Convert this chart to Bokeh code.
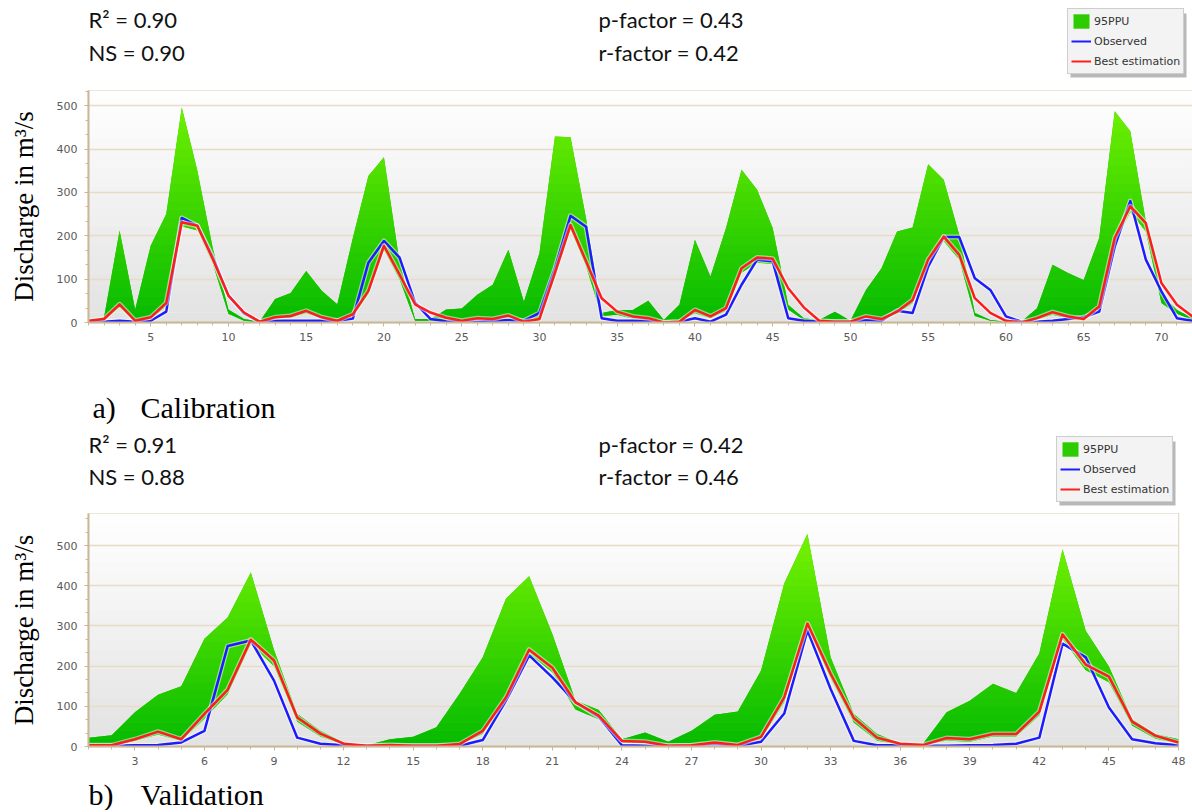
from bokeh.plotting import figure
from bokeh.layouts import column, row
from bokeh.models import Label, Legend, LegendItem, SingleIntervalTicker, BoxAnnotation, Range1d
from bokeh.embed import file_html
from bokeh.resources import INLINE

# ---------------- data: calibration ----------------
cal_step = list(range(1, 73))
cal_upper = [4, 12, 212, 30, 177, 250, 496, 350, 170, 30,
             8, 2, 54, 68, 119, 73, 42, 195, 338, 381,
             140, 8, 8, 30, 32, 64, 87, 168, 48, 160,
             429, 427, 240, 22, 29, 29, 50, 6, 41, 191,
             106, 218, 352, 306, 218, 41, 10, 6, 25, 4,
             75, 125, 210, 219, 365, 329, 202, 22, 6, 2,
             2, 33, 133, 114, 98, 195, 487, 441, 233, 64,
             29, 10]
cal_lower = [2, 5, 36, 2, 8, 38, 222, 212, 135, 20,
             4, 0, 9, 11, 22, 9, 2, 14, 66, 168,
             100, 4, 4, 7, 2, 6, 5, 11, 1, 5,
             105, 215, 130, 15, 18, 9, 7, 0, 1, 22,
             10, 27, 115, 138, 135, 30, 6, 2, 1, 1,
             10, 5, 20, 45, 135, 188, 145, 15, 4, 1,
             0, 7, 18, 10, 5, 30, 182, 255, 210, 45,
             20, 6]
cal_observed = [2, 2, 4, 2, 4, 25, 241, 223, 150, 62,
                21, 2, 4, 4, 4, 4, 4, 9, 138, 188,
                150, 46, 8, 3, 2, 2, 4, 6, 4, 22,
                125, 246, 221, 10, 4, 4, 4, 0, 2, 10,
                2, 18, 87, 145, 141, 10, 4, 2, 2, 2,
                6, 4, 27, 22, 129, 197, 197, 102, 75, 14,
                2, 2, 4, 8, 12, 25, 175, 280, 145, 72,
                10, 4]
cal_best = [4, 8, 42, 4, 12, 45, 231, 223, 146, 62,
            23, 2, 12, 15, 27, 12, 4, 19, 73, 177,
            111, 42, 23, 11, 4, 10, 8, 16, 2, 8,
            115, 225, 141, 56, 25, 14, 10, 0, 2, 29,
            14, 33, 125, 150, 147, 79, 35, 4, 2, 2,
            14, 8, 25, 52, 145, 198, 156, 56, 22, 4,
            0, 10, 24, 14, 8, 37, 195, 268, 229, 91,
            41, 14]
cal_stats = ["R\u00b2 = 0.90", "NS = 0.90", "p-factor = 0.43", "r-factor = 0.42"]

# ---------------- data: validation ----------------
val_step = list(range(1, 49))
val_upper = [22, 28, 85, 129, 150, 268, 321, 433, 240, 81,
             39, 10, 3, 18, 24, 48, 131, 222, 368, 424,
             280, 114, 91, 18, 35, 12, 39, 79, 87, 189,
             406, 529, 222, 81, 31, 8, 8, 85, 114, 156,
             133, 232, 491, 288, 199, 68, 31, 18]
val_lower = [2, 2, 14, 30, 14, 70, 130, 255, 200, 62,
             25, 5, 1, 3, 1, 1, 4, 32, 110, 230,
             185, 92, 68, 10, 8, 1, 2, 7, 3, 18,
             110, 295, 170, 60, 15, 4, 3, 15, 12, 25,
             25, 78, 268, 190, 160, 52, 20, 7]
val_observed = [2, 2, 3, 4, 10, 39, 250, 264, 164, 22,
                7, 3, 2, 2, 2, 2, 2, 16, 114, 227,
                172, 110, 74, 3, 2, 2, 2, 7, 2, 12,
                82, 289, 143, 14, 3, 3, 2, 2, 3, 4,
                7, 22, 256, 222, 97, 18, 8, 3]
val_best = [3, 3, 18, 37, 18, 81, 141, 266, 214, 72,
            32, 7, 2, 4, 2, 2, 6, 39, 122, 241,
            196, 110, 77, 14, 12, 2, 3, 10, 4, 24,
            122, 306, 181, 71, 22, 7, 4, 21, 18, 31,
            31, 87, 279, 204, 174, 62, 27, 10]
val_stats = ["R\u00b2 = 0.91", "NS = 0.88", "p-factor = 0.42", "r-factor = 0.46"]

legend_labels = ["95PPU", "Observed", "Best estimation"]
y_label = "Discharge in m\u00b3/s"

AXIS_TAN = "#c9b797"
GRID_TAN = "#e8dcc6"
BAND_GREEN = "#2ccc00"
OBS_BLUE = "#1c1cff"
BEST_RED = "#ff1c1c"
W = 1192
BL = 88   # left border shared by every stacked figure (frames are aligned)
BR = 0
NAN = float("nan")


def lerp_color(c0, c1, t):
    return "#%02x%02x%02x" % tuple(int(round(a + (b - a) * t)) for a, b in zip(c0, c1))


def clip_slab(pts, a, b):
    def clip(poly, inside, yv):
        out = []
        n = len(poly)
        for k in range(n):
            cur = poly[k]
            prev = poly[k - 1]
            if inside(cur):
                if not inside(prev):
                    t = (yv - prev[1]) / (cur[1] - prev[1])
                    out.append((prev[0] + t * (cur[0] - prev[0]), yv))
                out.append(cur)
            elif inside(prev):
                t = (yv - prev[1]) / (cur[1] - prev[1])
                out.append((prev[0] + t * (cur[0] - prev[0]), yv))
        return out
    pts = clip(pts, lambda q: q[1] >= a, a)
    if pts:
        pts = clip(pts, lambda q: q[1] <= b, b)
    return pts


def text_strip(height):
    """A bare figure whose data units are page pixels (y downward) for free text."""
    p = figure(width=W, height=height, x_range=Range1d(BL, W - BR), y_range=Range1d(height, 0),
               output_backend="svg", toolbar_location=None,
               x_axis_type=None, y_axis_type=None,
               min_border_left=BL, min_border_right=BR, min_border_top=0, min_border_bottom=0)
    p.grid.visible = False
    p.outline_line_color = None
    return p


def add_stats(p, stats, pos):
    for txt, (px, py) in zip(stats, pos):
        p.add_layout(Label(x=px, y=py, text=txt, text_font="Lato",
                           text_font_size="22px", text_baseline="middle",
                           text_align="left", text_color="#111111"))


def add_caption(p, letter, word, xl, xw, y):
    for txt, xx in ((letter, xl), (word, xw)):
        p.add_layout(Label(x=xx, y=y, text=txt, text_font="Liberation Serif",
                           text_font_size="30px", text_baseline="middle",
                           text_color="#000000"))


def add_legend(p, left, top, height):
    # invisible proxies (a single NaN point) that only supply the legend icons
    band = p.varea(x=[NAN], y1=[NAN], y2=[NAN], fill_color=BAND_GREEN)
    obs = p.line(x=[NAN], y=[NAN], line_color=OBS_BLUE, line_width=2)
    best = p.line(x=[NAN], y=[NAN], line_color=BEST_RED, line_width=2)
    lw, lh = 116, 64
    p.add_layout(BoxAnnotation(left=left + 3, right=left + lw + 3, top=top + 3, bottom=top + lh + 3,
                               fill_color="#b8b8b8", fill_alpha=1, line_alpha=0))
    legend = Legend(items=[LegendItem(label=legend_labels[0], renderers=[band]),
                           LegendItem(label=legend_labels[1], renderers=[obs]),
                           LegendItem(label=legend_labels[2], renderers=[best])],
                    location=(left - BL, height - top - lh), orientation="vertical",
                    label_text_font="DejaVu Sans", label_text_font_size="11px",
                    label_text_color="#333333",
                    glyph_width=20, glyph_height=18, label_height=18,
                    label_standoff=3, spacing=2, padding=3, margin=0,
                    border_line_color="#a9a9a9", border_line_width=1,
                    background_fill_color="#f3f3f3", background_fill_alpha=1)
    p.add_layout(legend)


def make_panel(x, lower, upper, obs, best, ymax, xtick, xminor, frame_h, bb, br):
    p = figure(width=W, height=frame_h + bb,
               x_range=Range1d(x[0], x[-1]), y_range=Range1d(0, ymax),
               output_backend="svg", toolbar_location=None,
               min_border_left=BL, min_border_right=br,
               min_border_top=0, min_border_bottom=bb)

    # plot-area gradient background
    nb = 24
    for k in range(nb):
        t = (k + 0.5) / nb
        p.add_layout(BoxAnnotation(bottom=ymax * k / nb, top=ymax * (k + 1) / nb + 1.0,
                                   fill_color=lerp_color((226, 226, 226), (255, 255, 255), t),
                                   fill_alpha=1, line_alpha=0, level="image"))

    # 95PPU band (base) plus gradient slabs computed from the band outline
    p.varea(x=x, y1=lower, y2=upper, fill_color=BAND_GREEN, fill_alpha=1)
    poly = list(zip(x, upper)) + list(zip(x[::-1], lower[::-1]))
    step = 20
    xs, ys, cols = [], [], []
    yb = 0
    while yb < ymax:
        seg = clip_slab(poly, yb - 0.7 if yb > 0 else yb, yb + step)
        if len(seg) >= 3:
            xs.append([q[0] for q in seg])
            ys.append([q[1] for q in seg])
            t = min((yb + step / 2) / 500.0, 1.0)
            cols.append(lerp_color((4, 186, 0), (112, 240, 0), t))
        yb += step
    p.patches(xs=xs, ys=ys, fill_color=cols, line_alpha=0)

    p.line(x, obs, line_color="white", line_width=5, line_alpha=0.5, line_join="round")
    p.line(x, obs, line_color=OBS_BLUE, line_width=2.5, line_join="round")
    p.line(x, best, line_color="white", line_width=5, line_alpha=0.5, line_join="round")
    p.line(x, best, line_color=BEST_RED, line_width=2.5, line_join="round")

    # axes
    p.xaxis.ticker = SingleIntervalTicker(interval=xtick, num_minor_ticks=xminor)
    p.yaxis.ticker = SingleIntervalTicker(interval=100, num_minor_ticks=3)
    p.xgrid.visible = False
    p.ygrid.grid_line_color = GRID_TAN
    p.ygrid.grid_line_width = 1.5
    p.axis.axis_line_color = AXIS_TAN
    p.axis.axis_line_width = 2
    p.axis.major_tick_line_color = AXIS_TAN
    p.axis.minor_tick_line_color = AXIS_TAN
    p.axis.major_tick_in = 0
    p.axis.minor_tick_in = 0
    p.axis.major_tick_out = 4
    p.axis.minor_tick_out = 3
    p.axis.major_label_text_font = "DejaVu Sans"
    p.axis.major_label_text_font_size = "11px"
    p.axis.major_label_text_color = "#5a5a5a"
    p.xaxis.major_label_standoff = 6
    p.yaxis.major_label_standoff = 7
    p.yaxis.axis_label = y_label
    p.yaxis.axis_label_text_font = "Liberation Serif"
    p.yaxis.axis_label_text_font_size = "27px"
    p.yaxis.axis_label_text_font_style = "normal"
    p.yaxis.axis_label_text_color = "#000000"
    p.yaxis.axis_label_standoff = 15
    p.outline_line_color = "#ddd0b8"
    p.outline_line_width = 1.5
    return p


# header above panel a (page y 0..90)
head_a = text_strip(90)
add_stats(head_a, cal_stats, [(88, 19), (88, 52), (598, 19), (598, 52)])
add_legend(head_a, 1067, 10, 90)

# panel a (page y 90..350, frame 90..322)
pa = make_panel(cal_step, cal_lower, cal_upper, cal_observed, cal_best, 535, 5, 5, 232, 28, 0)

# strip between panels (page y 350..513)
mid = text_strip(163)
add_caption(mid, "a)", "Calibration", 92, 140, 57)
add_stats(mid, val_stats, [(88, 94), (88, 126), (598, 94), (598, 126)])
add_legend(mid, 1056, 88, 163)

# panel b (page y 513..774, frame 513..746), kept in its own row so its
# narrower frame is not aligned with the others
pb = make_panel(val_step, val_lower, val_upper, val_observed, val_best, 580, 3, 3, 233, 28, 14)

# caption below panel b (page y 774..810)
foot = text_strip(36)
add_caption(foot, "b)", "Validation", 88, 140, 20)

layout = column(head_a, pa, mid, row(pb), foot)
open("out.html", "w").write(file_html(layout, INLINE))
